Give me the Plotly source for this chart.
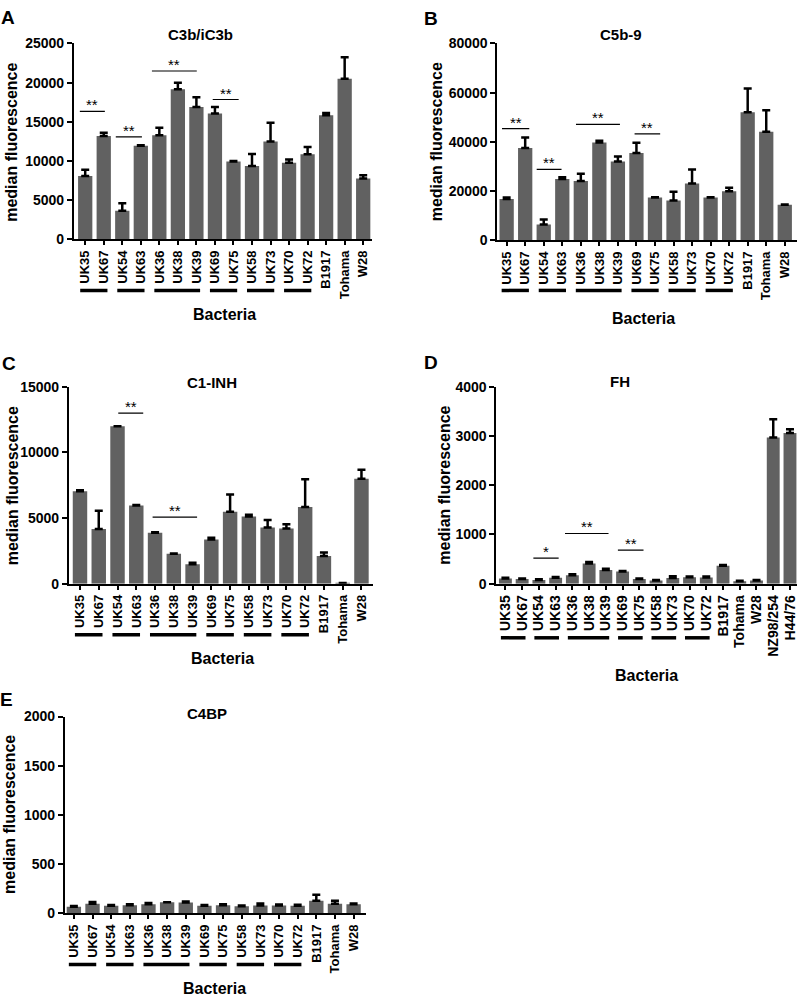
import plotly.graph_objects as go

W, H = 800, 1004
FONT = "Arial, Liberation Sans, sans-serif"

# ---------------- data ----------------
strains = ["UK35", "UK67", "UK54", "UK63", "UK36", "UK38", "UK39", "UK69", "UK75",
           "UK58", "UK73", "UK70", "UK72", "B1917", "Tohama", "W28"]
strains_fh = strains + ["NZ98/254", "H44/76"]

c3b_mean = [8080, 13190, 3640, 11930, 13270, 19140, 16880, 16040, 9920,
            9340, 12480, 9760, 10850, 15830, 20480, 7750]
c3b_err = [800, 420, 960, 70, 970, 830, 1250, 840, 80,
           1550, 2390, 420, 920, 290, 2760, 420]

c5b9_mean = [16800, 37470, 6400, 24930, 24130, 39730, 32000, 35470, 17330,
             16130, 23070, 17330, 19870, 52000, 44130, 14400]
c5b9_err = [530, 4260, 2000, 670, 2940, 670, 2000, 4130, 140,
            3600, 5730, 140, 1460, 9730, 8670, 130]

c1inh_mean = [7050, 4175, 12000, 5950, 3875, 2275, 1475, 3375, 5475,
              5125, 4275, 4200, 5850, 2100, 60, 8000]
c1inh_err = [75, 1375, None, 50, 50, 25, 125, 125, 1325,
             125, 575, 325, 2100, 275, None, 675]

fh_mean = [105, 95, 75, 120, 170, 410, 280, 245, 95,
           65, 115, 130, 125, 365, 50, 65, 2970, 3060]
fh_err = [15, 10, 15, 15, 20, 30, 25, 15, 10,
          10, 35, 15, 20, 15, 10, 10, 370, 80]

c4bp_mean = [67, 97, 77, 83, 93, 113, 110, 77, 83,
             73, 80, 80, 77, 127, 97, 93]
c4bp_err = [7, 17, 7, 10, 13, None, 10, 7, 10,
            7, 20, 10, 10, 63, 30, 7]

# index groups of paired isolates (underlined)
groups = [(0, 1), (2, 3), (4, 6), (7, 8), (9, 10), (11, 12)]

# significance brackets: (start, end in category units, height, label)
sig_a = [(-0.29, 1.06, 16330, "**"), (1.65, 3.06, 13070, "**"),
         (3.6, 6.02, 21480, "**"), (6.88, 8.28, 17840, "**")]
sig_b = [(-0.25, 1.22, 45330, "**"), (1.62, 2.96, 28800, "**"),
         (3.74, 6.11, 47070, "**"), (6.9, 8.28, 43200, "**")]
sig_c = [(2.04, 3.37, 13000, "**"), (3.87, 6.24, 5075, "**")]
sig_d = [(1.67, 3.18, 520, "*"), (3.56, 6.16, 1020, "**"), (6.72, 8.25, 680, "**")]

panels = [
    dict(letter="A", title="C3b/iC3b", cats=strains, mean=c3b_mean, err=c3b_err,
         ymax=25000, dtick=5000, sig=sig_a,
         px=(74, 372), py=(36, 235), xr=(-0.61, 15.45),
         lpos=(8, 10), tpos=(201, 27), ylab=(12, 136), xlab=(225, 311), gline=287, tfs=13),
    dict(letter="B", title="C5b-9", cats=strains, mean=c5b9_mean, err=c5b9_err,
         ymax=80000, dtick=20000, sig=sig_b,
         px=(498, 798), py=(36, 236), xr=(-0.5, 15.66),
         lpos=(432, 11), tpos=(622, 27), ylab=(437, 136), xlab=(644, 316), gline=287, tfs=13),
    dict(letter="C", title="C1-INH", cats=strains, mean=c1inh_mean, err=c1inh_err,
         ymax=15000, dtick=5000, sig=sig_c,
         px=(69, 373), py=(385, 585), xr=(-0.59, 15.59),
         lpos=(9, 361), tpos=(212, 381), ylab=(12, 485), xlab=(223, 661), gline=637, tfs=13),
    dict(letter="D", title="FH", cats=strains_fh, mean=fh_mean, err=fh_err,
         ymax=4000, dtick=1000, sig=sig_d,
         px=(497, 798), py=(385, 585), xr=(-0.54, 17.42),
         lpos=(432, 360), tpos=(621, 380), ylab=(445, 485), xlab=(647, 678), gline=640, tfs=14),
    dict(letter="E", title="C4BP", cats=strains, mean=c4bp_mean, err=c4bp_err,
         ymax=2000, dtick=500, sig=[],
         px=(65, 366), py=(720, 920), xr=(-0.48, 15.64),
         lpos=(7, 703), tpos=(207, 717), ylab=(10, 819), xlab=(215, 996), gline=972, tfs=13),
]


def fx(x):
    return x / W


def fy(y):
    return 1 - y / H


fig = go.Figure()
annotations = []
shapes = []
BAR = "#616161"

for k, p in enumerate(panels, start=1):
    xa = "x" if k == 1 else f"x{k}"
    ya = "y" if k == 1 else f"y{k}"
    idx = list(range(len(p["cats"])))
    fig.add_trace(go.Bar(
        x=idx, y=p["mean"], xaxis=xa, yaxis=ya, width=0.77,
        marker=dict(color=BAR, line=dict(width=0)),
        error_y=dict(type="data", symmetric=False, array=p["err"],
                     arrayminus=[0] * len(idx), color="black", thickness=2.5, width=4),
        showlegend=False, hoverinfo="skip"))

    common_line = dict(showline=True, linecolor="black", linewidth=2, zeroline=False,
                       showgrid=False, ticks="outside", tickcolor="black")
    fig.layout[xa.replace("x", "xaxis")] = dict(
        domain=[fx(p["px"][0]), fx(p["px"][1])], anchor=ya, range=list(p["xr"]),
        tickmode="array", tickvals=idx, ticktext=p["cats"], tickangle=-90,
        ticklen=4, tickwidth=1.5,
        tickfont=dict(family=FONT, size=p["tfs"], color="black", weight="bold"),
        **common_line)
    fig.layout[ya.replace("y", "yaxis")] = dict(
        domain=[fy(p["py"][1]), fy(p["py"][0])], anchor=xa, range=[0, p["ymax"]],
        tick0=0, dtick=p["dtick"], ticklen=5, tickwidth=2, tickformat="d",
        tickfont=dict(family=FONT, size=14, color="black", weight="bold"),
        **common_line)

    # text
    annotations += [
        dict(text=f"<b>{p['letter']}</b>", x=fx(p["lpos"][0]), y=fy(p["lpos"][1]),
             font=dict(size=19)),
        dict(text=f"<b>{p['title']}</b>", x=fx(p["tpos"][0]), y=fy(p["tpos"][1]),
             font=dict(size=15)),
        dict(text="<b>median fluorescence</b>", x=fx(p["ylab"][0]), y=fy(p["ylab"][1]),
             textangle=-90, font=dict(size=16)),
        dict(text="<b>Bacteria</b>", x=fx(p["xlab"][0]), y=fy(p["xlab"][1]),
             font=dict(size=16)),
    ]

    # group underlines
    for g0, g1 in groups:
        shapes.append(dict(type="line", xref=xa, yref="paper",
                           x0=g0 - 0.27, x1=g1 + 0.2, y0=fy(p["gline"]), y1=fy(p["gline"]),
                           line=dict(color="black", width=3.5)))

    # significance brackets
    for s0, s1, h, lab in p["sig"]:
        shapes.append(dict(type="line", xref=xa, yref=ya, x0=s0, x1=s1, y0=h, y1=h,
                           line=dict(color="black", width=1.2)))
        annotations.append(dict(text=lab, xref=xa, yref=ya, x=(s0 + s1) / 2, y=h,
                                yanchor="bottom", yshift=-4, showarrow=False,
                                font=dict(family=FONT, size=15, color="black")))

for a in annotations:
    a.setdefault("xref", "paper")
    a.setdefault("yref", "paper")
    a.setdefault("showarrow", False)
    a.setdefault("xanchor", "center")
    a.setdefault("yanchor", "middle")
    f = a.setdefault("font", {})
    f.setdefault("family", FONT)
    f.setdefault("color", "black")

fig.update_layout(
    width=W, height=H, margin=dict(l=0, r=0, t=0, b=0),
    paper_bgcolor="white", plot_bgcolor="white",
    annotations=annotations, shapes=shapes, bargap=0.2,
)

post = ("var s=document.documentElement.style;s.margin='0';s.overflow='hidden';"
        "var b=document.body.style;b.margin='0';b.overflow='hidden';")
fig.write_html("out.html", config={"displayModeBar": False}, post_script=post)
